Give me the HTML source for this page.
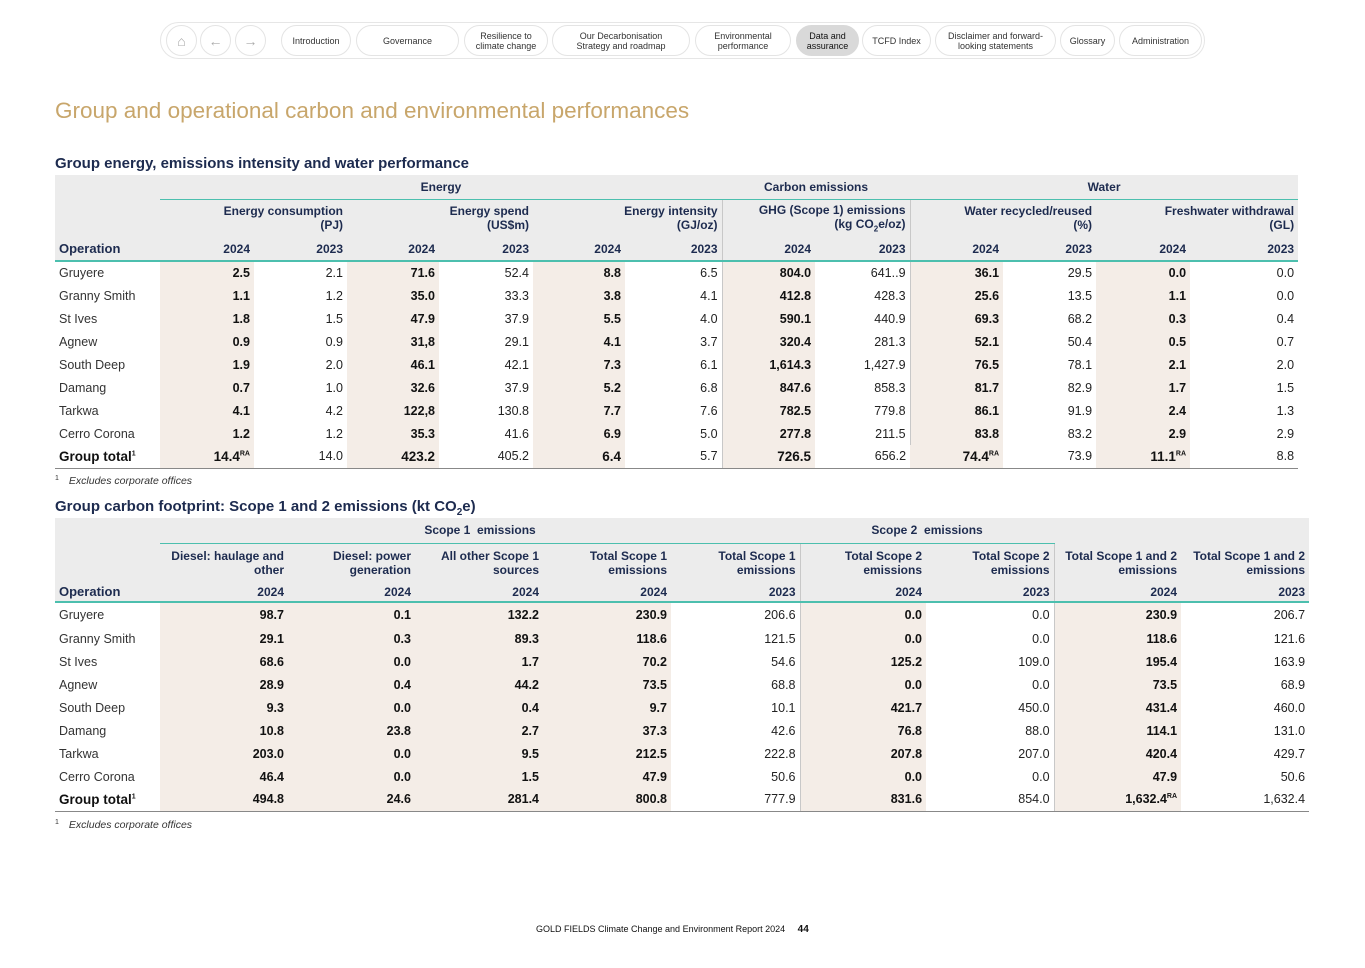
<!DOCTYPE html>
<html><head><meta charset="utf-8"><style>
*{margin:0;padding:0;box-sizing:border-box}
body{width:1365px;height:968px;background:#fff;font-family:"Liberation Sans",sans-serif;color:#1d2b4f;position:relative;overflow:hidden}
.nav{position:absolute;left:160px;top:22px;width:1045px;height:37px;border:1px solid #e6e6e6;border-radius:19px}
.p{position:absolute;top:25px;height:31px;border:1px solid #e4e4e4;border-radius:16px;font-size:9px;color:#333;display:flex;align-items:center;justify-content:center;text-align:center;line-height:10px;background:#fff}
.c{position:absolute;top:25px;width:31px;height:31px;border:1px solid #e4e4e4;border-radius:50%;color:#aaa;font-size:14px;display:flex;align-items:center;justify-content:center}
h1{position:absolute;left:55px;top:98px;font-size:22.5px;font-weight:normal;color:#c8a66b}
h2{position:absolute;left:55px;font-size:15px;font-weight:bold;color:#1d2b4f}
table{position:absolute;border-collapse:collapse;table-layout:fixed;font-size:12.5px}
td{padding:0 4px;text-align:right;white-space:nowrap;color:#222}
td.o{text-align:left;color:#333}
.hd td{background:#ececec;color:#1d2b4f;font-weight:bold;font-size:12px}
.hd td.ctr{text-align:center}
.tl{border-bottom:1px solid #4cbfae}
.yr td{border-bottom:2px solid #4cbfae}
.s{background:#f4ede7;font-weight:bold;color:#111}
.vl{border-left:1px solid #c8c8c8}
.tot td{border-bottom:1px solid #888;font-weight:bold;font-size:13.5px;color:#111}
.tot td.n{font-weight:normal;font-size:12.5px;color:#222}
sup{font-size:7px}
.fn{position:absolute;left:55px;font-size:10.5px;font-style:italic;color:#333}
.fn span{font-style:normal;font-size:7px;position:relative;top:-4px;margin-right:10px}
</style></head><body>
<div class="nav"></div>
<div class="c" style="left:166px">⌂</div>
<div class="c" style="left:200px">←</div>
<div class="c" style="left:235px">→</div>
<div class="p" style="left:281px;width:70px">Introduction</div>
<div class="p" style="left:356px;width:103px">Governance</div>
<div class="p" style="left:464px;width:84px">Resilience to<br>climate change</div>
<div class="p" style="left:552px;width:138px">Our Decarbonisation<br>Strategy and roadmap</div>
<div class="p" style="left:695px;width:96px">Environmental<br>performance</div>
<div class="p" style="left:796px;width:63px;background:#d9d9d9;border-color:#d9d9d9;color:#111">Data and<br>assurance</div>
<div class="p" style="left:862px;width:69px">TCFD Index</div>
<div class="p" style="left:935px;width:121px">Disclaimer and forward-<br>looking statements</div>
<div class="p" style="left:1060px;width:55px">Glossary</div>
<div class="p" style="left:1119px;width:83px">Administration</div>

<h1>Group and operational carbon and environmental performances</h1>
<h2 style="top:155px">Group energy, emissions intensity and water performance</h2>

<table style="left:55px;top:175px;width:1243px">
<colgroup><col style="width:105px"><col style="width:94px"><col style="width:93px"><col style="width:92px"><col style="width:94px"><col style="width:92px"><col style="width:97px"><col style="width:93px"><col style="width:95px"><col style="width:93px"><col style="width:93px"><col style="width:94px"><col style="width:108px"></colgroup>
<tr class="hd" style="height:24px"><td></td><td colspan="6" class="ctr tl">Energy</td><td colspan="2" class="ctr tl">Carbon emissions</td><td colspan="4" class="ctr tl">Water</td></tr>
<tr class="hd" style="height:38px"><td></td><td colspan="2">Energy consumption<br>(PJ)</td><td colspan="2">Energy spend<br>(US$m)</td><td colspan="2">Energy intensity<br>(GJ/oz)</td><td colspan="2" class="vl">GHG (Scope 1) emissions<br>(kg CO<sub style="font-size:8px">2</sub>e/oz)</td><td colspan="2" class="vl">Water recycled/reused<br>(%)</td><td colspan="2">Freshwater withdrawal<br>(GL)</td></tr>
<tr class="hd yr" style="height:24px"><td class="o" style="color:#1d2b4f;font-size:13px">Operation</td><td>2024</td><td>2023</td><td>2024</td><td>2023</td><td>2024</td><td>2023</td><td class="vl">2024</td><td>2023</td><td class="vl">2024</td><td>2023</td><td>2024</td><td>2023</td></tr>
<tr style="height:23px"><td class="o">Gruyere</td><td class="s">2.5</td><td>2.1</td><td class="s">71.6</td><td>52.4</td><td class="s">8.8</td><td>6.5</td><td class="s vl">804.0</td><td>641..9</td><td class="s vl">36.1</td><td>29.5</td><td class="s">0.0</td><td>0.0</td></tr>
<tr style="height:23px"><td class="o">Granny Smith</td><td class="s">1.1</td><td>1.2</td><td class="s">35.0</td><td>33.3</td><td class="s">3.8</td><td>4.1</td><td class="s vl">412.8</td><td>428.3</td><td class="s vl">25.6</td><td>13.5</td><td class="s">1.1</td><td>0.0</td></tr>
<tr style="height:23px"><td class="o">St Ives</td><td class="s">1.8</td><td>1.5</td><td class="s">47.9</td><td>37.9</td><td class="s">5.5</td><td>4.0</td><td class="s vl">590.1</td><td>440.9</td><td class="s vl">69.3</td><td>68.2</td><td class="s">0.3</td><td>0.4</td></tr>
<tr style="height:23px"><td class="o">Agnew</td><td class="s">0.9</td><td>0.9</td><td class="s">31,8</td><td>29.1</td><td class="s">4.1</td><td>3.7</td><td class="s vl">320.4</td><td>281.3</td><td class="s vl">52.1</td><td>50.4</td><td class="s">0.5</td><td>0.7</td></tr>
<tr style="height:23px"><td class="o">South Deep</td><td class="s">1.9</td><td>2.0</td><td class="s">46.1</td><td>42.1</td><td class="s">7.3</td><td>6.1</td><td class="s vl">1,614.3</td><td>1,427.9</td><td class="s vl">76.5</td><td>78.1</td><td class="s">2.1</td><td>2.0</td></tr>
<tr style="height:23px"><td class="o">Damang</td><td class="s">0.7</td><td>1.0</td><td class="s">32.6</td><td>37.9</td><td class="s">5.2</td><td>6.8</td><td class="s vl">847.6</td><td>858.3</td><td class="s vl">81.7</td><td>82.9</td><td class="s">1.7</td><td>1.5</td></tr>
<tr style="height:23px"><td class="o">Tarkwa</td><td class="s">4.1</td><td>4.2</td><td class="s">122,8</td><td>130.8</td><td class="s">7.7</td><td>7.6</td><td class="s vl">782.5</td><td>779.8</td><td class="s vl">86.1</td><td>91.9</td><td class="s">2.4</td><td>1.3</td></tr>
<tr style="height:23px"><td class="o">Cerro Corona</td><td class="s">1.2</td><td>1.2</td><td class="s">35.3</td><td>41.6</td><td class="s">6.9</td><td>5.0</td><td class="s vl">277.8</td><td>211.5</td><td class="s vl">83.8</td><td>83.2</td><td class="s">2.9</td><td>2.9</td></tr>
<tr class="tot" style="height:23px"><td class="o" style="color:#111">Group total<sup>1</sup></td><td class="s">14.4<sup>RA</sup></td><td class="n">14.0</td><td class="s">423.2</td><td class="n">405.2</td><td class="s">6.4</td><td class="n">5.7</td><td class="s vl">726.5</td><td class="n">656.2</td><td class="s">74.4<sup>RA</sup></td><td class="n">73.9</td><td class="s">11.1<sup>RA</sup></td><td class="n">8.8</td></tr>
</table>
<div class="fn" style="top:475px"><span>1</span>Excludes corporate offices</div>

<h2 style="top:498px">Group carbon footprint: Scope 1 and 2 emissions (kt CO<sub style="font-size:10px">2</sub>e)</h2>

<table style="left:55px;top:518px;width:1254px">
<colgroup><col style="width:105px"><col style="width:128px"><col style="width:127px"><col style="width:128px"><col style="width:128px"><col style="width:129px"><col style="width:126px"><col style="width:128px"><col style="width:127px"><col style="width:128px"></colgroup>
<tr class="hd" style="height:25px"><td></td><td colspan="5" class="ctr tl">Scope 1&nbsp; emissions</td><td colspan="2" class="ctr tl">Scope 2&nbsp; emissions</td><td></td><td></td></tr>
<tr class="hd" style="height:39px"><td></td><td>Diesel: haulage and<br>other</td><td>Diesel: power<br>generation</td><td>All other Scope 1<br>sources</td><td>Total Scope 1<br>emissions</td><td>Total Scope 1<br>emissions</td><td class="vl">Total Scope 2<br>emissions</td><td>Total Scope 2<br>emissions</td><td class="vl">Total Scope 1 and 2<br>emissions</td><td>Total Scope 1 and 2<br>emissions</td></tr>
<tr class="hd yr" style="height:20px"><td class="o" style="color:#1d2b4f;font-size:13px">Operation</td><td>2024</td><td>2024</td><td>2024</td><td>2024</td><td>2023</td><td class="vl">2024</td><td>2023</td><td class="vl">2024</td><td>2023</td></tr>
<tr style="height:25px"><td class="o">Gruyere</td><td class="s">98.7</td><td class="s">0.1</td><td class="s">132.2</td><td class="s">230.9</td><td>206.6</td><td class="s vl">0.0</td><td>0.0</td><td class="s vl">230.9</td><td>206.7</td></tr>
<tr style="height:23px"><td class="o">Granny Smith</td><td class="s">29.1</td><td class="s">0.3</td><td class="s">89.3</td><td class="s">118.6</td><td>121.5</td><td class="s vl">0.0</td><td>0.0</td><td class="s vl">118.6</td><td>121.6</td></tr>
<tr style="height:23px"><td class="o">St Ives</td><td class="s">68.6</td><td class="s">0.0</td><td class="s">1.7</td><td class="s">70.2</td><td>54.6</td><td class="s vl">125.2</td><td>109.0</td><td class="s vl">195.4</td><td>163.9</td></tr>
<tr style="height:23px"><td class="o">Agnew</td><td class="s">28.9</td><td class="s">0.4</td><td class="s">44.2</td><td class="s">73.5</td><td>68.8</td><td class="s vl">0.0</td><td>0.0</td><td class="s vl">73.5</td><td>68.9</td></tr>
<tr style="height:23px"><td class="o">South Deep</td><td class="s">9.3</td><td class="s">0.0</td><td class="s">0.4</td><td class="s">9.7</td><td>10.1</td><td class="s vl">421.7</td><td>450.0</td><td class="s vl">431.4</td><td>460.0</td></tr>
<tr style="height:23px"><td class="o">Damang</td><td class="s">10.8</td><td class="s">23.8</td><td class="s">2.7</td><td class="s">37.3</td><td>42.6</td><td class="s vl">76.8</td><td>88.0</td><td class="s vl">114.1</td><td>131.0</td></tr>
<tr style="height:23px"><td class="o">Tarkwa</td><td class="s">203.0</td><td class="s">0.0</td><td class="s">9.5</td><td class="s">212.5</td><td>222.8</td><td class="s vl">207.8</td><td>207.0</td><td class="s vl">420.4</td><td>429.7</td></tr>
<tr style="height:23px"><td class="o">Cerro Corona</td><td class="s">46.4</td><td class="s">0.0</td><td class="s">1.5</td><td class="s">47.9</td><td>50.6</td><td class="s vl">0.0</td><td>0.0</td><td class="s vl">47.9</td><td>50.6</td></tr>
<tr class="tot" style="height:23px"><td class="o" style="color:#111">Group total<sup>1</sup></td><td class="s" style="font-size:12.5px">494.8</td><td class="s" style="font-size:12.5px">24.6</td><td class="s" style="font-size:12.5px">281.4</td><td class="s" style="font-size:12.5px">800.8</td><td class="n">777.9</td><td class="s vl" style="font-size:12.5px">831.6</td><td class="n">854.0</td><td class="s vl" style="font-size:12.5px">1,632.4<sup>RA</sup></td><td class="n">1,632.4</td></tr>
</table>
<div class="fn" style="top:819px"><span>1</span>Excludes corporate offices</div>

<div style="position:absolute;left:536px;top:924px;font-size:9px;color:#111">GOLD FIELDS Climate Change and Environment Report 2024 <b style="font-size:10px;margin-left:10px">44</b></div>
</body></html>
